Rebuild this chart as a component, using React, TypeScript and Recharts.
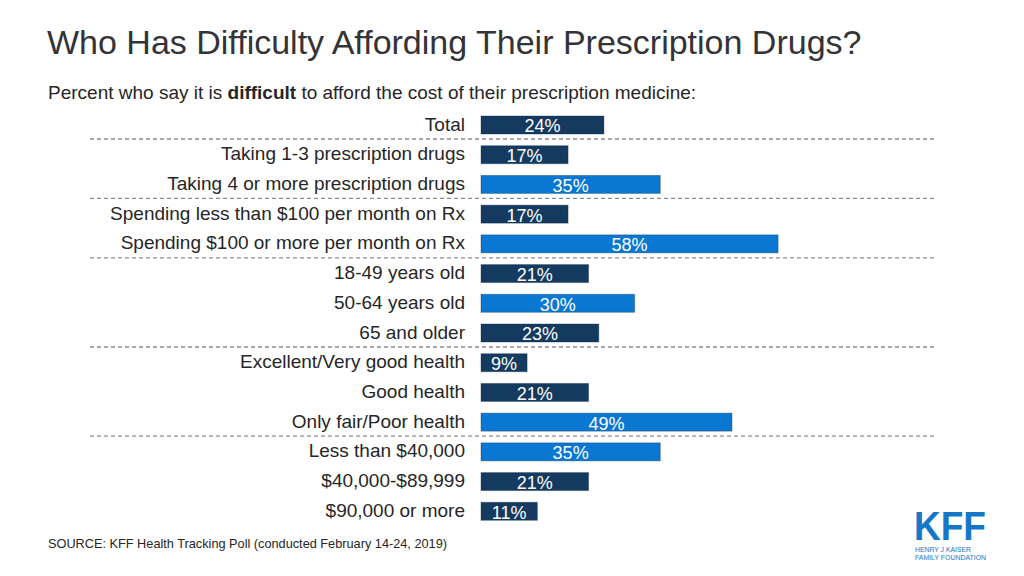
import React from 'react';
import { BarChart, Bar, XAxis, YAxis, Cell, LabelList } from 'recharts';

const categories = [
  'Total',
  'Taking 1-3 prescription drugs',
  'Taking 4 or more prescription drugs',
  'Spending less than $100 per month on Rx',
  'Spending $100 or more per month on Rx',
  '18-49 years old',
  '50-64 years old',
  '65 and older',
  'Excellent/Very good health',
  'Good health',
  'Only fair/Poor health',
  'Less than $40,000',
  '$40,000-$89,999',
  '$90,000 or more',
];
const values = [24, 17, 35, 17, 58, 21, 30, 23, 9, 21, 49, 35, 21, 11];
const highlighted = [false, false, true, false, true, false, true, false, false, false, true, true, false, false];
const groupEnds = [true, false, true, false, true, false, false, true, false, false, true, false, false, false];

const DARK = '#153a60';
const BRIGHT = '#0a78d2';
const FONT = '"Liberation Sans", Arial, Helvetica, sans-serif';

const data = categories.map((name, i) => ({
  name,
  value: values[i],
  bright: highlighted[i],
  sep: groupEnds[i],
}));

const CategoryTick = (props: any) => {
  const { x, y, payload } = props;
  return (
    <text x={x - 8} y={y} dy="0.3em" textAnchor="end" fontSize={19} fill="#262626" fontFamily={FONT}>
      {payload.value}
    </text>
  );
};

const BarWithSeparator = (props: any) => {
  const { x, y, width, height, fill, payload } = props;
  const sepY = y + height + 5;
  return (
    <g>
      <rect x={x} y={y} width={width} height={height} fill={fill} stroke="#0e2a47" strokeOpacity={0.35} strokeWidth={1} />
      {payload && payload.sep ? (
        <line x1={90} x2={936} y1={sepY} y2={sepY} stroke="#8c8c8c" strokeWidth={1.3} strokeDasharray="4 3" />
      ) : null}
    </g>
  );
};

const BarLabel = (props: any) => {
  const { x, y, width, height, value } = props;
  return (
    <text x={x + width / 2} y={y + height / 2 + 1} dy="0.36em" textAnchor="middle" fontSize={18} fill="#ffffff" fontFamily={FONT}>
      {`${value}%`}
    </text>
  );
};

export default function App() {
  return (
    <div style={{ position: 'relative', width: 1024, height: 576, margin: -8, overflow: 'hidden', background: '#fff', fontFamily: FONT }}>
      <div style={{ position: 'absolute', left: 0, top: 0 }}>
        <BarChart
          width={1024}
          height={576}
          data={data}
          layout="vertical"
          margin={{ top: 110, right: 82, bottom: 50, left: 0 }}
        >
          <XAxis type="number" domain={[0, 90]} hide />
          <YAxis
            type="category"
            dataKey="name"
            width={481}
            axisLine={false}
            tickLine={false}
            tick={<CategoryTick />}
            interval={0}
          />
          <Bar dataKey="value" barSize={18} isAnimationActive={false} shape={<BarWithSeparator />}>
            {data.map((d, i) => (
              <Cell key={i} fill={d.bright ? BRIGHT : DARK} />
            ))}
            <LabelList dataKey="value" content={<BarLabel />} />
          </Bar>
        </BarChart>
      </div>
      <svg width={1024} height={576} style={{ position: 'absolute', left: 0, top: 0, pointerEvents: 'none' }}>
        <text x={47} y={54} fontSize={34} fill="#333338" fontFamily={FONT}>
          Who Has Difficulty Affording Their Prescription Drugs?
        </text>
        <text x={48} y={99} fontSize={19} fill="#262626" fontFamily={FONT}>
          Percent who say it is <tspan fontWeight="bold">difficult</tspan> to afford the cost of their prescription medicine:
        </text>
        <text x={48} y={548} fontSize={13} fill="#262626" fontFamily={FONT} textLength={399} lengthAdjust="spacingAndGlyphs">
          SOURCE: KFF Health Tracking Poll (conducted February 14-24, 2019)
        </text>
        <text x={914} y={540} fontSize={40} fontWeight="bold" fill="#1677c9" fontFamily={FONT} textLength={72} lengthAdjust="spacingAndGlyphs">
          KFF
        </text>
        <text x={915} y={552} fontSize={7.5} fill="#1677c9" fontFamily={FONT} textLength={56} lengthAdjust="spacingAndGlyphs">HENRY J KAISER</text>
        <text x={915} y={560} fontSize={7.5} fill="#1677c9" fontFamily={FONT} textLength={71} lengthAdjust="spacingAndGlyphs">FAMILY FOUNDATION</text>
      </svg>
    </div>
  );
}
